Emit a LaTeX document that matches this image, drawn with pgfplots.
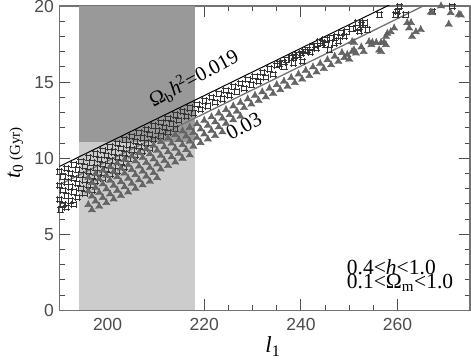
\documentclass[border=0pt]{standalone}
\usepackage{fontspec}
\setmainfont{Liberation Serif}
\newfontfamily\ticksf{Liberation Sans}
\usepackage{pgfplots}
\pgfplotsset{compat=1.18}

\pgfdeclareplotmark{sqstar}{%
  \pgfpathmoveto{\pgfqpoint{-\pgfplotmarksize}{0.62\pgfplotmarksize}}%
  \pgfpathlineto{\pgfqpoint{\pgfplotmarksize}{0.62\pgfplotmarksize}}%
  \pgfpathmoveto{\pgfqpoint{-\pgfplotmarksize}{-0.62\pgfplotmarksize}}%
  \pgfpathlineto{\pgfqpoint{\pgfplotmarksize}{-0.62\pgfplotmarksize}}%
  \pgfpathmoveto{\pgfqpoint{0.62\pgfplotmarksize}{-\pgfplotmarksize}}%
  \pgfpathlineto{\pgfqpoint{0.62\pgfplotmarksize}{\pgfplotmarksize}}%
  \pgfpathmoveto{\pgfqpoint{-0.62\pgfplotmarksize}{-\pgfplotmarksize}}%
  \pgfpathlineto{\pgfqpoint{-0.62\pgfplotmarksize}{\pgfplotmarksize}}%
  \pgfusepathqstroke}
\pgfdeclareplotmark{tristar}{%
  \pgfpathmoveto{\pgfqpoint{0pt}{\pgfplotmarksize}}%
  \pgfpathlineto{\pgfqpoint{0.36\pgfplotmarksize}{0.2\pgfplotmarksize}}%
  \pgfpathlineto{\pgfqpoint{0.866\pgfplotmarksize}{-0.5\pgfplotmarksize}}%
  \pgfpathlineto{\pgfqpoint{0pt}{-0.42\pgfplotmarksize}}%
  \pgfpathlineto{\pgfqpoint{-0.866\pgfplotmarksize}{-0.5\pgfplotmarksize}}%
  \pgfpathlineto{\pgfqpoint{-0.36\pgfplotmarksize}{0.2\pgfplotmarksize}}%
  \pgfpathclose
  \pgfusepathqfillstroke}

\begin{document}
\begin{tikzpicture}
\begin{axis}[name=ax,
  scale only axis, width=410.7pt, height=304.3pt,
  xmin=190, xmax=275, ymin=0, ymax=20,
  xtick={200,220,240,260}, minor x tick num=3,
  ytick={0,5,10,15,20}, minor y tick num=4,
  tick align=inside, major tick length=11pt, minor tick length=5.5pt,
  axis line style={black!55, line width=1.2pt},
  tick style={black!70, line width=0.8pt},
  /pgf/number format/assume math mode=true,
  tick label style={font=\ticksf\fontsize{17.5}{17.5}\selectfont, text=black!70},
  yticklabel style={xshift=-2pt},
  xticklabel style={yshift=-4pt},
  xlabel={\fontsize{23}{23}\selectfont\textit{l}\textsubscript{1}},
  xlabel style={at={(axis description cs:0.52,-0.12)}, anchor=center},
  ylabel={\fontsize{22}{22}\selectfont\textit{t}\textsubscript{0}\,{\fontsize{15}{15}\selectfont (Gyr)}},
  ylabel style={at={(axis description cs:-0.107,0.517)}, anchor=center},
]
\addplot[fill=black!20, draw=none] coordinates {(194,0) (218,0) (218,20) (194,20)} -- cycle;
\addplot[fill=black!40, draw=none] coordinates {(194,11.05) (218,11.05) (218,20) (194,20)} -- cycle;

% Omega_b h^2 = 0.019
\addplot[only marks, mark=sqstar, mark size=3.6pt, draw=black!80, line width=0.8pt] coordinates {
(190,9.10) (191.5,9.33) (193,9.57) (194.5,9.80) (196,10.03) (197.5,10.27) (199,10.50) (200.5,10.73)
(202,10.96) (203.5,11.20) (205,11.43) (206.5,11.66) (208,11.90) (209.5,12.13) (211,12.36) (212.5,12.60)
(214,12.83) (215.5,13.06) (217,13.30) (218.5,13.53) (220,13.76) (221.5,13.99) (223,14.23) (224.5,14.46)
(226,14.69) (227.5,14.93) (229,15.16) (230.5,15.39) (232,15.63) (233.5,15.86) (235,16.09)
(190.75,8.77) (192.25,9.00) (193.75,9.23) (195.25,9.47) (196.75,9.70) (198.25,9.93) (199.75,10.17)
(201.25,10.40) (202.75,10.63) (204.25,10.86) (205.75,11.10) (207.25,11.33) (208.75,11.56) (210.25,11.80)
(211.75,12.03) (213.25,12.26) (214.75,12.49) (216.25,12.73) (217.75,12.96) (219.25,13.20) (220.75,13.43)
(222.25,13.66) (223.75,13.89) (225.25,14.13) (226.75,14.36) (228.25,14.59) (229.75,14.82) (231.25,15.06)
(232.75,15.29) (234.25,15.52)
(190,8.20) (191.5,8.43) (193,8.67) (194.5,8.90) (196,9.13) (197.5,9.37) (199,9.60) (200.5,9.83)
(202,10.06) (203.5,10.30) (205,10.53) (206.5,10.76) (208,11.00) (209.5,11.23) (211,11.46) (212.5,11.70) (214,11.93)
(190.75,7.87) (192.25,8.10) (193.75,8.33) (195.25,8.57) (196.75,8.80) (198.25,9.03) (199.75,9.27)
(201.25,9.50) (202.75,9.73) (204.25,9.96) (205.75,10.20) (207.25,10.43) (208.75,10.66)
(190,7.30) (191.5,7.53) (193,7.77) (194.5,8.00) (196,8.23) (197.5,8.47) (199,8.70) (200.5,8.93) (202,9.16) (203.5,9.40)
(190.75,6.97) (192.25,7.20) (193.75,7.43) (195.25,7.67) (196.75,7.90)
(190.2,6.6) (191.5,6.75) (193,6.95)
(235.6,16.2) (236.3,16.3) (236.5,16.0) (237,16.47) (238,16.58) (238.5,16.25) (238.7,16.68) (239.4,16.8)
(240.1,16.9) (240.3,16.35) (240.8,17.0) (241.4,17.1) (242,16.95) (242.2,17.3) (243,17.4) (243.2,17.2)
(243.9,17.67) (244.5,17.57) (245,17.8) (245.2,17.45) (245.9,17.12) (246.3,17.9) (246.9,17.57) (247.3,18.0)
(247.8,17.7) (248.3,18.22) (249,18.0) (249.5,18.3) (250.5,18.5) (251.8,18.88) (252.5,18.77) (253.2,18.88)
(251.8,18.55) (252.1,18.33) (253.8,18.44) (256.2,19.43) (259.7,19.43) (260.0,19.64) (260.4,19.97)
(261.7,19.43) (267.2,19.64) (271.3,19.97)
};

% 0.03
\addplot[only marks, mark=tristar, mark size=4.3pt, draw=black!65, fill=black!60, line width=0.3pt] coordinates {
(196,8.74) (197.5,8.97) (199,9.20) (200.5,9.44) (202,9.67) (203.5,9.91) (205,10.14) (206.5,10.37)
(208,10.61) (209.5,10.84) (211,11.08) (212.5,11.31) (214,11.54) (215.5,11.78) (217,12.01) (218.5,12.25)
(220,12.48) (221.5,12.71) (223,12.95) (224.5,13.18) (226,13.42) (227.5,13.65) (229,13.88) (230.5,14.12)
(232,14.35) (233.5,14.59) (235,14.82) (236.5,15.05) (238,15.29) (239.5,15.52) (241,15.76) (242.5,15.99)
(244,16.22) (245.5,16.46) (247,16.69) (248.5,16.93)
(196.75,8.40) (198.25,8.64) (199.75,8.87) (201.25,9.11) (202.75,9.34) (204.25,9.57) (205.75,9.81)
(207.25,10.04) (208.75,10.28) (210.25,10.51) (211.75,10.74) (213.25,10.98) (214.75,11.21) (216.25,11.45)
(217.75,11.68) (219.25,11.91) (220.75,12.15) (222.25,12.38) (223.75,12.62) (225.25,12.85) (226.75,13.08)
(228.25,13.32) (229.75,13.55) (231.25,13.79) (232.75,14.02) (234.25,14.25) (235.75,14.49) (237.25,14.72)
(238.75,14.96) (240.25,15.19) (241.75,15.42) (243.25,15.66) (244.75,15.89) (246.25,16.13) (247.75,16.36)
(196,7.84) (197.5,8.07) (199,8.30) (200.5,8.54) (202,8.77) (203.5,9.01) (205,9.24) (206.5,9.47)
(208,9.71) (209.5,9.94) (211,10.18) (212.5,10.41) (214,10.64) (215.5,10.88) (217,11.11) (218.5,11.35)
(220,11.58) (221.5,11.81) (223,12.05) (224.5,12.28) (226,12.52) (227.5,12.75)
(196.75,7.50) (198.25,7.74) (199.75,7.97) (201.25,8.21) (202.75,8.44) (204.25,8.67) (205.75,8.91)
(207.25,9.14) (208.75,9.38) (210.25,9.61) (211.75,9.84) (213.25,10.08) (214.75,10.31) (216.25,10.55)
(217.75,10.78) (219.25,11.01) (220.75,11.25) (222.25,11.48) (223.75,11.72)
(196,6.94) (197.5,7.17) (199,7.40) (200.5,7.64) (202,7.87) (203.5,8.11) (205,8.34) (206.5,8.57)
(208,8.81) (209.5,9.04) (211,9.28) (212.5,9.51) (214,9.74) (215.5,9.98) (217,10.21)
(196.75,6.60) (198.25,6.84) (199.75,7.07) (201.25,7.31) (202.75,7.54) (204.25,7.77) (205.75,8.01)
(207.25,8.24) (208.75,8.48) (210.25,8.71)
(249,16.6) (249.6,16.8) (250,16.5) (250.6,17.0) (251,17.1) (251.4,16.9) (250.6,17.65) (251,17.6)
(252.5,17.3) (253,17.0) (254.1,17.65) (254.8,17.6) (255.6,17.6) (254.6,17.45) (256.2,17.1) (256.6,17.0)
(256.6,17.6) (257.2,17.6) (257.6,17.45) (257.9,18.2) (257.6,18.0) (258.6,18.3) (259.3,18.55)
(262,18.9) (262.8,18.9) (262.4,18.55) (263.8,18.3) (264.8,18.45) (263,18.0) (266.9,19.6) (267.2,19.55)
(269,20.0) (270.6,18.8) (271,19.55) (272.7,19.45) (273.1,19.4)
};

\addplot[black, line width=1pt] coordinates {(190,9.45) (262,20.64)};
\addplot[black!55, line width=1.3pt] coordinates {(190,8.25) (270,20.73)};

\node[rotate=28.5, font=\fontsize{20.5}{20.5}\selectfont] at (axis cs:217.8,15.25)
  {Ω\textsubscript{b}\textit{h}\textsuperscript{2}=0.019};
\node[rotate=28.5, font=\fontsize{21}{21}\selectfont] at (axis cs:228.2,12.1) {0.03};
\node[anchor=base west, inner sep=0pt, font=\fontsize{21.5}{21.5}\selectfont] at (axis cs:249.5,2.37)
  {0.4<\textit{h}<1.0};
\node[anchor=base west, inner sep=0pt, font=\fontsize{21.5}{21.5}\selectfont] at (axis cs:249.5,1.45)
  {0.1<Ω\textsubscript{m}<1.0};
\end{axis}
\pgfresetboundingbox
\path ([shift={(-59.3pt,-50.7pt)}]ax.south west) rectangle ([shift={(1pt,6pt)}]ax.north east);
\end{tikzpicture}
\end{document}
